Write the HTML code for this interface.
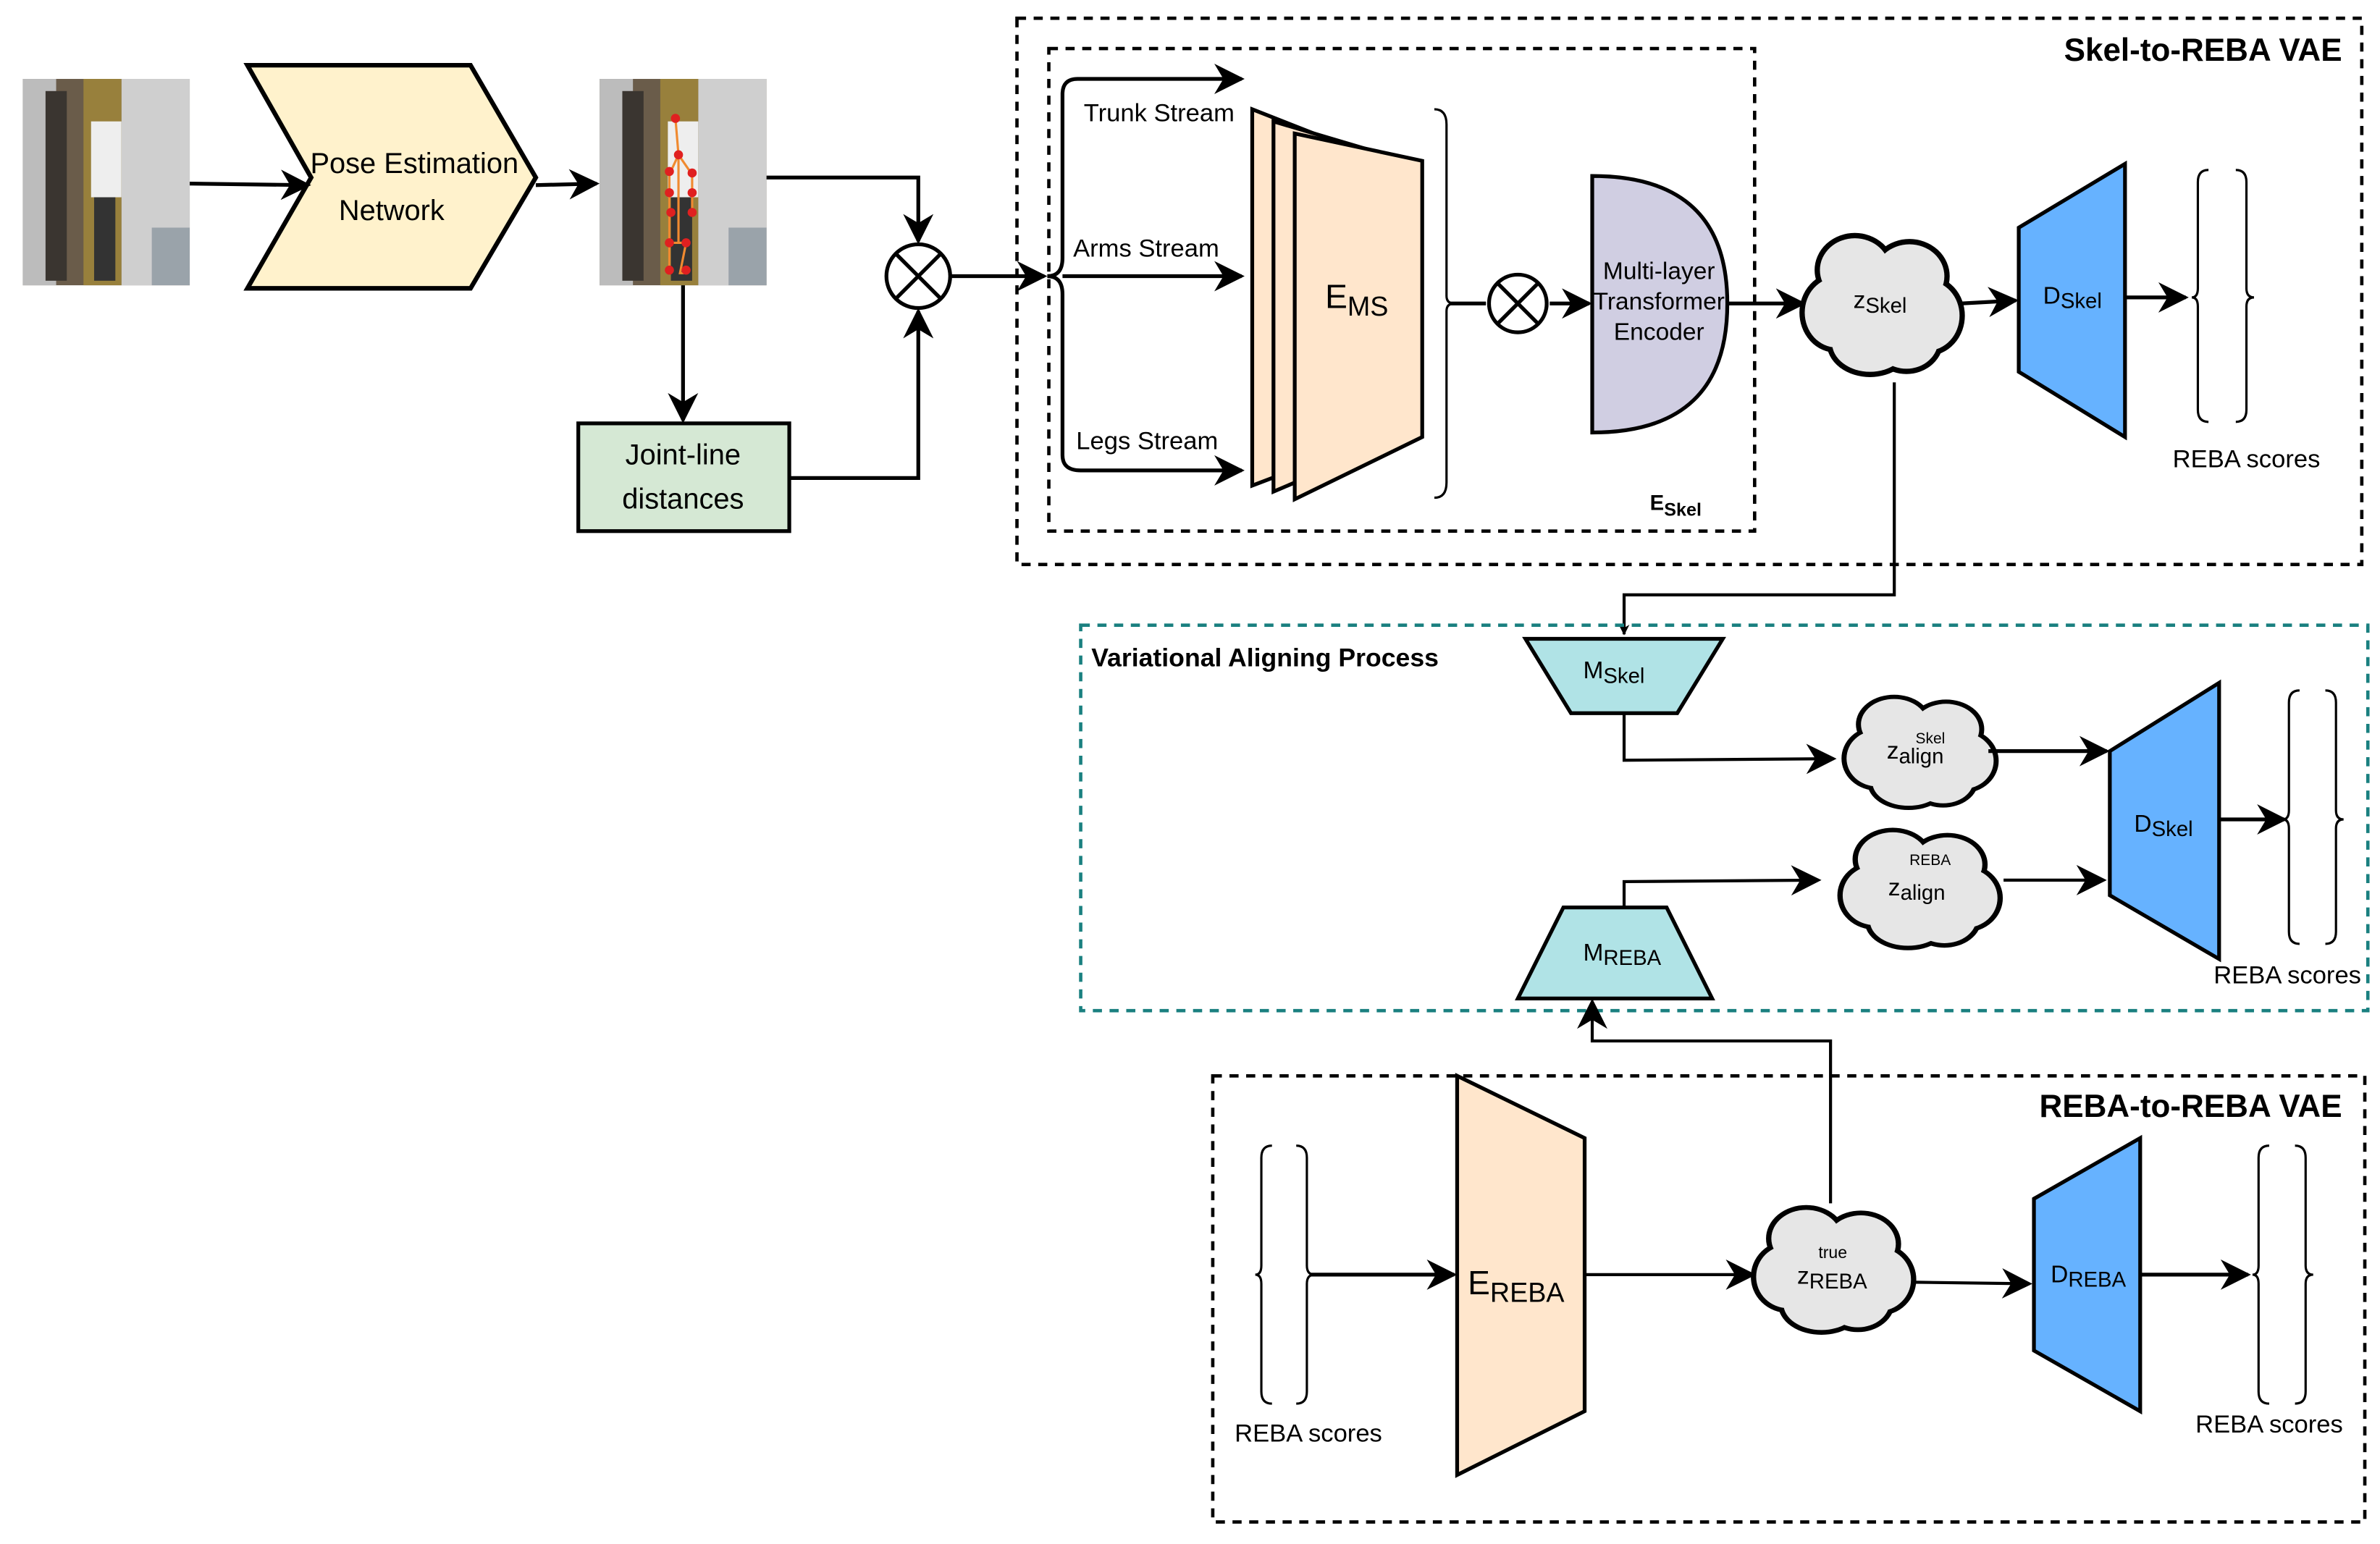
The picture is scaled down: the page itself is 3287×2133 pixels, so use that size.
<!DOCTYPE html>
<html><head><meta charset="utf-8"><style>html,body{margin:0;padding:0;background:#fff}svg{display:block}text{font-family:"Liberation Sans",sans-serif;fill:#000}</style></head>
<body>
<svg width="3287" height="2133" viewBox="0 0 1568 1017.5" xmlns="http://www.w3.org/2000/svg">
<defs>
<marker id="a" viewBox="0 0 10 10" refX="9" refY="5" markerWidth="7" markerHeight="7" markerUnits="userSpaceOnUse" orient="auto"><path d="M0,0 L10,5 L0,10 L3,5 Z" fill="#000"/></marker>
<marker id="b" viewBox="0 0 10 10" refX="9" refY="5" markerWidth="20" markerHeight="20" markerUnits="userSpaceOnUse" orient="auto"><path d="M0,0 L10,5 L0,10 L3,5 Z" fill="#000"/></marker>
<g id="cl">
<g stroke="#000" stroke-width="5" fill="#e6e6e6">
<ellipse cx="-18" cy="-22" rx="24" ry="22"/><ellipse cx="18" cy="-18" rx="24" ry="22"/><ellipse cx="-30" cy="6" rx="22" ry="24"/><ellipse cx="30" cy="8" rx="22" ry="24"/><ellipse cx="-8" cy="26" rx="26" ry="20"/><ellipse cx="16" cy="24" rx="22" ry="20"/></g>
<g fill="#e6e6e6">
<ellipse cx="-18" cy="-22" rx="23" ry="21"/><ellipse cx="18" cy="-18" rx="23" ry="21"/><ellipse cx="-30" cy="6" rx="21" ry="23"/><ellipse cx="30" cy="8" rx="21" ry="23"/><ellipse cx="-8" cy="26" rx="25" ry="19"/><ellipse cx="16" cy="24" rx="21" ry="19"/><ellipse cx="0" cy="2" rx="38" ry="30"/></g>
</g>
</defs>
<!-- images -->
<g>
<rect x="15" y="52" width="110" height="136" fill="#6a5c4a"/>
<rect x="15" y="52" width="22" height="136" fill="#bcbcbc"/>
<rect x="80" y="52" width="45" height="136" fill="#cfcfcf"/>
<rect x="55" y="52" width="25" height="136" fill="#98803c"/>
<rect x="30" y="60" width="14" height="125" fill="#3a3530"/>
<rect x="60" y="80" width="20" height="50" fill="#eeeeee"/>
<rect x="62" y="130" width="14" height="55" fill="#333"/>
<rect x="100" y="150" width="25" height="38" fill="#9aa3aa"/>
<rect x="395" y="52" width="110" height="136" fill="#6a5c4a"/>
<rect x="395" y="52" width="22" height="136" fill="#bcbcbc"/>
<rect x="460" y="52" width="45" height="136" fill="#cfcfcf"/>
<rect x="435" y="52" width="25" height="136" fill="#98803c"/>
<rect x="410" y="60" width="14" height="125" fill="#3a3530"/>
<rect x="440" y="80" width="20" height="50" fill="#eeeeee"/>
<rect x="442" y="130" width="14" height="55" fill="#333"/>
<rect x="480" y="150" width="25" height="38" fill="#9aa3aa"/>
<g stroke="#f08a30" stroke-width="1.5" fill="none"><path d="M445,78 L447,102 L441,115 L441,140 L441,162 L441,180 M447,102 L456,115 L456,140 M447,102 L447,160 M441,160 L452,160 L448,180 L453,180"/></g>
<g fill="#e02020"><circle cx="445" cy="78" r="3"/><circle cx="447" cy="102" r="3"/><circle cx="441" cy="113" r="3"/><circle cx="456" cy="114" r="3"/><circle cx="441" cy="127" r="3"/><circle cx="456" cy="127" r="3"/><circle cx="442" cy="140" r="3"/><circle cx="456" cy="140" r="3"/><circle cx="441" cy="160" r="3"/><circle cx="452" cy="160" r="3"/><circle cx="441" cy="178" r="3"/><circle cx="452" cy="178" r="3"/></g>
</g>
<!-- Pose estimation -->
<path d="M163,43 L310,43 L353,117 L310,190 L163,190 L205,117 Z" fill="#fff2cc" stroke="#000" stroke-width="3"/>
<text x="273" y="114" font-size="19" text-anchor="middle">Pose Estimation</text>
<text x="258" y="145" font-size="19" text-anchor="middle">Network</text>
<g stroke="#000" stroke-width="2.5" fill="none">
<path d="M125,121 L203,122" marker-end="url(#b)"/>
<path d="M353,122 L393,121" marker-end="url(#b)"/>
<path d="M505,117 L605,117 L605,159" marker-end="url(#b)"/>
<path d="M450,188 L450,277" marker-end="url(#b)"/>
<path d="M520,315 L605,315 L605,205" marker-end="url(#b)"/>
<path d="M626,182 L688,182" marker-end="url(#b)"/>
</g>
<rect x="381" y="279" width="139" height="71" fill="#d5e8d4" stroke="#000" stroke-width="2.5"/>
<text x="450" y="306" font-size="19" text-anchor="middle">Joint-line</text>
<text x="450" y="335" font-size="19" text-anchor="middle">distances</text>
<g stroke="#000" stroke-width="2.5" fill="#fff"><circle cx="605" cy="182" r="21"/><path d="M590,167 L620,197 M620,167 L590,197"/></g>
<!-- Skel-to-REBA box -->
<rect x="670" y="12" width="886" height="360" fill="none" stroke="#000" stroke-width="2.2" stroke-dasharray="6,5"/>
<text x="1543" y="40" font-size="21" font-weight="bold" text-anchor="end">Skel-to-REBA VAE</text>
<rect x="691" y="32" width="465" height="318" fill="none" stroke="#000" stroke-width="2.2" stroke-dasharray="6,5"/>
<text x="1087" y="336" font-size="14" font-weight="bold">E<tspan font-size="12" dy="4">Skel</tspan></text>
<!-- streams -->
<g stroke="#000" stroke-width="2.5" fill="none">
<path d="M690,182 Q700,182 700,170 L700,62 Q700,52 710,52 L818,52" marker-end="url(#b)"/>
<path d="M700,182 L818,182" marker-end="url(#b)"/>
<path d="M690,182 Q700,182 700,194 L700,300 Q700,310 712,310 L818,310" marker-end="url(#b)"/>
</g>
<text x="714" y="80" font-size="16.5">Trunk Stream</text>
<text x="707" y="169" font-size="16.5">Arms Stream</text>
<text x="709" y="296" font-size="16.5">Legs Stream</text>
<!-- EMS -->
<g fill="#ffe6cc" stroke="#000" stroke-width="2.5">
<path d="M825,72 L909,105 L909,288 L825,320 Z"/>
<path d="M839,80 L923,105 L923,288 L839,324 Z"/>
<path d="M853,88 L937,106 L937,288 L853,329 Z"/>
</g>
<text x="873" y="203" font-size="22">E<tspan font-size="18" dy="5">MS</tspan></text>
<path d="M945,72 Q953,72 953,82 L953,195 Q953,200 958,200 Q953,200 953,205 L953,318 Q953,328 945,328" fill="none" stroke="#000" stroke-width="1.5"/>
<g stroke="#000" stroke-width="2.5" fill="none">
<path d="M955,200 L979,200"/>
<path d="M1021,200 L1047,200" marker-end="url(#b)"/>
</g>
<g stroke="#000" stroke-width="2.5" fill="#fff"><circle cx="1000" cy="200" r="19"/><path d="M987,187 L1013,213 M1013,187 L987,213"/></g>
<path d="M1049,116 Q1138,116 1138,200 Q1138,285 1049,285 Z" fill="#d0cee2" stroke="#000" stroke-width="2.5"/>
<text x="1093" y="184" font-size="16" text-anchor="middle">Multi-layer</text>
<text x="1093" y="204" font-size="16" text-anchor="middle">Transformer</text>
<text x="1093" y="224" font-size="16" text-anchor="middle">Encoder</text>
<path d="M1138,200 L1188,200" stroke="#000" stroke-width="2.5" marker-end="url(#b)"/>
<use href="#cl" transform="translate(1240,200)"/>
<text x="1221" y="203" font-size="16">z<tspan font-size="14" dy="3">Skel</tspan></text>
<path d="M1292,200 L1328,198" stroke="#000" stroke-width="2.5" marker-end="url(#b)"/>
<path d="M1330,150 L1400,108 L1400,288 L1330,245 Z" fill="#66b2ff" stroke="#000" stroke-width="2.5"/>
<text x="1346" y="200" font-size="16">D<tspan font-size="14" dy="3">Skel</tspan></text>
<path d="M1400,196 L1440,196" stroke="#000" stroke-width="2.5" marker-end="url(#b)"/>
<g stroke="#000" stroke-width="1.5" fill="none">
<path d="M1455,112 Q1448,112 1448,120 L1448,190 Q1448,196 1444,196 Q1448,196 1448,202 L1448,270 Q1448,278 1455,278"/>
<path d="M1473,112 Q1480,112 1480,120 L1480,190 Q1480,196 1485,196 Q1480,196 1480,202 L1480,270 Q1480,278 1473,278"/>
</g>
<text x="1480" y="308" font-size="16.5" text-anchor="middle">REBA scores</text>
<path d="M1248,252 L1248,392 L1070,392 L1070,418" fill="none" stroke="#000" stroke-width="2" marker-end="url(#a)"/>
<!-- Variational box -->
<rect x="712" y="412" width="848" height="254" fill="none" stroke="#1a8080" stroke-width="2.2" stroke-dasharray="6,5"/>
<text x="719" y="439" font-size="17" font-weight="bold">Variational Aligning Process</text>
<path d="M1005,421 L1135,421 L1105,470 L1035,470 Z" fill="#b0e3e6" stroke="#000" stroke-width="2.5"/>
<text x="1043" y="447" font-size="16">M<tspan font-size="14" dy="3">Skel</tspan></text>
<path d="M1070,470 L1070,501 L1208,500" fill="none" stroke="#000" stroke-width="2" marker-end="url(#b)"/>
<use href="#cl" transform="translate(1265,495) scale(0.95,0.8)"/>
<text x="1243" y="500" font-size="16">z<tspan font-size="14" dy="3">align</tspan></text>
<text x="1262" y="490" font-size="10">Skel</text>
<path d="M1310,495 L1388,495" stroke="#000" stroke-width="2.5" marker-end="url(#b)"/>
<path d="M1390,495 L1462,450 L1462,632 L1390,590 Z" fill="#66b2ff" stroke="#000" stroke-width="2.5"/>
<text x="1406" y="548" font-size="16">D<tspan font-size="14" dy="3">Skel</tspan></text>
<path d="M1462,540 L1505,540" stroke="#000" stroke-width="2.5" marker-end="url(#b)"/>
<g stroke="#000" stroke-width="1.5" fill="none">
<path d="M1515,455 Q1508,455 1508,463 L1508,534 Q1508,540 1504,540 Q1508,540 1508,546 L1508,614 Q1508,622 1515,622"/>
<path d="M1532,455 Q1539,455 1539,463 L1539,534 Q1539,540 1544,540 Q1539,540 1539,546 L1539,614 Q1539,622 1532,622"/>
</g>
<text x="1507" y="648" font-size="16.5" text-anchor="middle">REBA scores</text>
<path d="M1030,598 L1098,598 L1128,658 L1000,658 Z" fill="#b0e3e6" stroke="#000" stroke-width="2.5"/>
<text x="1043" y="633" font-size="16">M<tspan font-size="14" dy="3">REBA</tspan></text>
<path d="M1070,598 L1070,581 L1198,580" fill="none" stroke="#000" stroke-width="2" marker-end="url(#b)"/>
<use href="#cl" transform="translate(1265,585) scale(1,0.85)"/>
<text x="1244" y="590" font-size="16">z<tspan font-size="14" dy="3">align</tspan></text>
<text x="1258" y="570" font-size="10">REBA</text>
<path d="M1320,580 L1386,580" stroke="#000" stroke-width="2" marker-end="url(#b)"/>
<path d="M1206,793 L1206,686 L1049,686 L1049,660" fill="none" stroke="#000" stroke-width="2" marker-end="url(#b)"/>
<!-- REBA-to-REBA -->
<rect x="799" y="709" width="759" height="294" fill="none" stroke="#000" stroke-width="2.2" stroke-dasharray="6,5"/>
<text x="1543" y="736" font-size="21" font-weight="bold" text-anchor="end">REBA-to-REBA VAE</text>
<g stroke="#000" stroke-width="1.5" fill="none">
<path d="M838,755 Q831,755 831,763 L831,834 Q831,840 827,840 Q831,840 831,846 L831,917 Q831,925 838,925"/>
<path d="M854,755 Q861,755 861,763 L861,834 Q861,840 866,840 Q861,840 861,846 L861,917 Q861,925 854,925"/>
</g>
<text x="862" y="950" font-size="16.5" text-anchor="middle">REBA scores</text>
<path d="M863,840 L958,840" stroke="#000" stroke-width="2.5" marker-end="url(#b)"/>
<path d="M960,709 L1044,750 L1044,930 L960,972 Z" fill="#ffe6cc" stroke="#000" stroke-width="2.5"/>
<text x="967" y="853" font-size="22">E<tspan font-size="18" dy="5">REBA</tspan></text>
<path d="M1044,840 L1155,840" stroke="#000" stroke-width="2" marker-end="url(#b)"/>
<use href="#cl" transform="translate(1208,836) scale(1,0.9)"/>
<text x="1184" y="846" font-size="16">z<tspan font-size="14" dy="3">REBA</tspan></text>
<text x="1198" y="829" font-size="11">true</text>
<path d="M1262,845 L1337,846" stroke="#000" stroke-width="2" marker-end="url(#b)"/>
<path d="M1340,790 L1410,750 L1410,930 L1340,890 Z" fill="#66b2ff" stroke="#000" stroke-width="2.5"/>
<text x="1351" y="845" font-size="16">D<tspan font-size="14" dy="3">REBA</tspan></text>
<path d="M1410,840 L1481,840" stroke="#000" stroke-width="2.5" marker-end="url(#b)"/>
<g stroke="#000" stroke-width="1.5" fill="none">
<path d="M1495,755 Q1488,755 1488,763 L1488,834 Q1488,840 1484,840 Q1488,840 1488,846 L1488,917 Q1488,925 1495,925"/>
<path d="M1512,755 Q1519,755 1519,763 L1519,834 Q1519,840 1524,840 Q1519,840 1519,846 L1519,917 Q1519,925 1512,925"/>
</g>
<text x="1495" y="944" font-size="16.5" text-anchor="middle">REBA scores</text>
</svg>
</body></html>
